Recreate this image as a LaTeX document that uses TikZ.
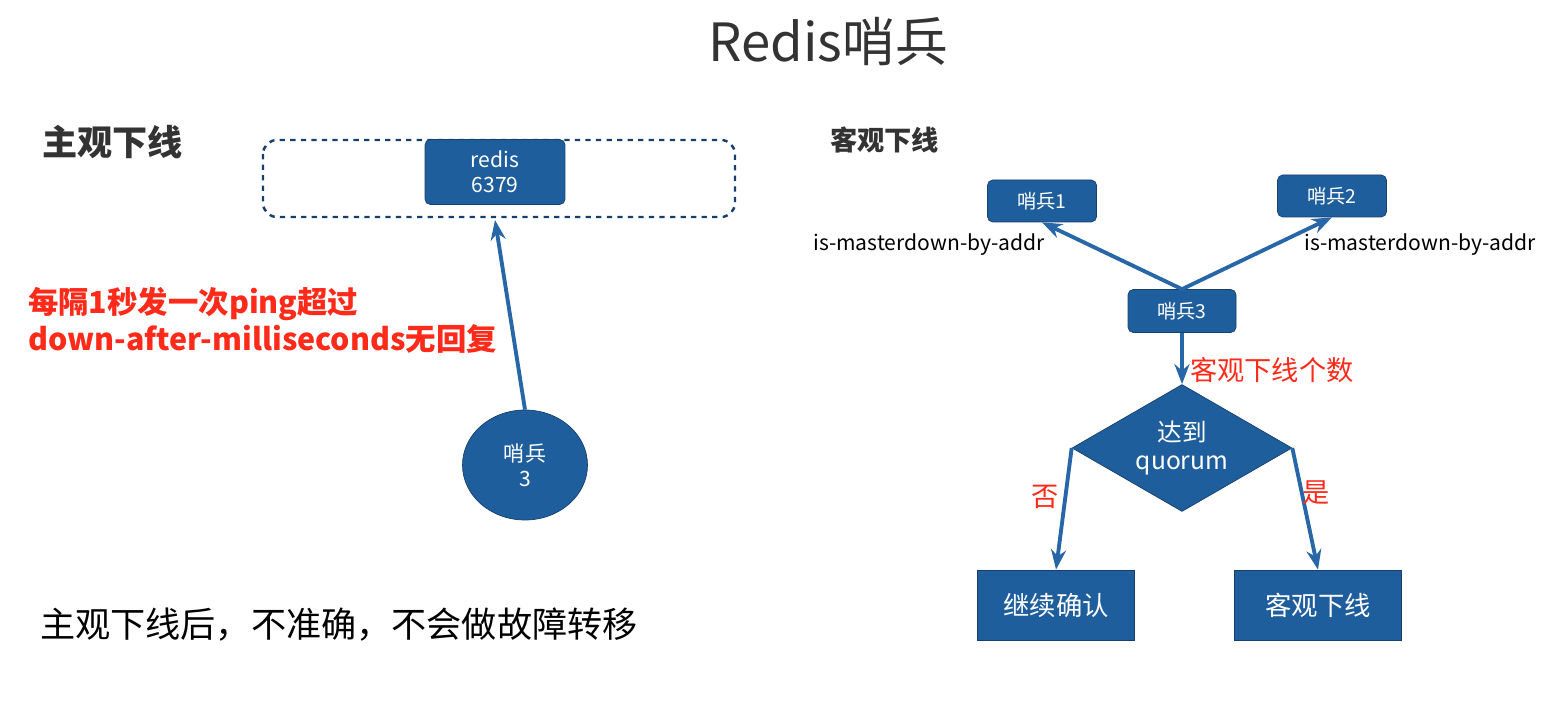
\documentclass[tikz,border=0pt]{standalone}
\usepackage{fontspec}
\setmainfont{Noto Sans CJK SC}
\usetikzlibrary{arrows.meta, positioning, shapes.geometric}
\definecolor{boxblue}{HTML}{1F5E9C}
\definecolor{edgeblue}{HTML}{173F6B}
\definecolor{arrblue}{HTML}{2767A8}
\definecolor{alertred}{HTML}{FF2A1A}

\begin{document}
\begin{tikzpicture}[
  x=0.02cm, y=-0.02cm,
  font=\fontsize{12}{14}\selectfont,
  box/.style={
    draw=edgeblue,
    fill=boxblue,
    text=white,
    rounded corners=3pt,
    align=center,
    font=\fontsize{11}{13}\selectfont
  },
  sqbox/.style={
    draw=edgeblue,
    fill=boxblue,
    text=white,
    font=\fontsize{15}{17}\selectfont
  },
  arr/.style={-{Stealth[length=4mm,width=3mm]}, arrblue, line width=2.2pt},
  note/.style={text=alertred, font=\fontsize{15.5}{18}\selectfont}
]
\useasboundingbox (0,0) rectangle (1565,705);

\node[text=black!80, font=\fontsize{30}{34}\selectfont] (title) at (828,42) {Redis哨兵};

% left: subjective down
\node[font=\fontsize{20}{22}\selectfont\bfseries, text=black!80, anchor=west] (subj) at (36,142) {主观下线};
\draw[edgeblue, dashed, line width=1.4pt, rounded corners=8pt] (263,140) rectangle (735,217);
\node[box, minimum width=2.8cm, minimum height=1.3cm, font=\fontsize{12}{14}\selectfont] (redis) at (495,172) {redis\\6379};
\node[ellipse, draw=edgeblue, fill=boxblue, text=white, minimum width=2.5cm, minimum height=2.2cm, align=center, font=\fontsize{12}{14}\selectfont] (s3l) at (525,465) {哨兵\\3};
\coordinate (dashbot) at (495,220);
\draw[arr] (s3l.north) -- (dashbot);
\node[text=alertred, font=\fontsize{17.3}{21}\selectfont\bfseries, anchor=west, align=left] (ping) at (22,320) {每隔1秒发一次ping超过\\down-after-milliseconds无回复};
\node[font=\fontsize{20}{22}\selectfont, anchor=west] (concl) at (34,625) {主观下线后，不准确，不会做故障转移};

% right: objective down
\node[font=\fontsize{15.5}{18}\selectfont\bfseries, text=black!80, anchor=west] (obj) at (824,140) {客观下线};
\node[box, minimum width=2.18cm, minimum height=0.84cm] (s1) at (1042,201) {哨兵1};
\node[box, minimum width=2.18cm, minimum height=0.84cm] (s2) at (1332,196) {哨兵2};
\node[box, minimum width=2.16cm, minimum height=0.86cm] (s3) at (1182,311) {哨兵3};
\draw[arr] (s3.north) -- (s1.south);
\draw[arr] (s3.north) -- (s2.south);
\node (ma1) at (929,245) {is-masterdown-by-addr};
\node (ma2) at (1420,245) {is-masterdown-by-addr};
\node[diamond, aspect=1.75, draw=edgeblue, fill=boxblue, text=white, inner sep=0pt, minimum width=4.4cm, minimum height=2.54cm, align=center, font=\fontsize{14}{16}\selectfont] (quorum) at (1182,448) {达到\\quorum};
\draw[arr] (s3.south) -- (quorum.north);
\node[note, anchor=west] (cnt) at (1184,370) {客观下线个数};
\node[sqbox, minimum width=3.14cm, minimum height=1.4cm] (cont) at (1056,605) {继续确认};
\node[sqbox, minimum width=3.34cm, minimum height=1.4cm] (odown) at (1318,605) {客观下线};
\draw[arr] (quorum.west) -- (cont.north);
\draw[arr] (quorum.east) -- (odown.north);
\node[note] (no) at (1045,497) {否};
\node[note] (yes) at (1316,493) {是};
\end{tikzpicture}
\end{document}
